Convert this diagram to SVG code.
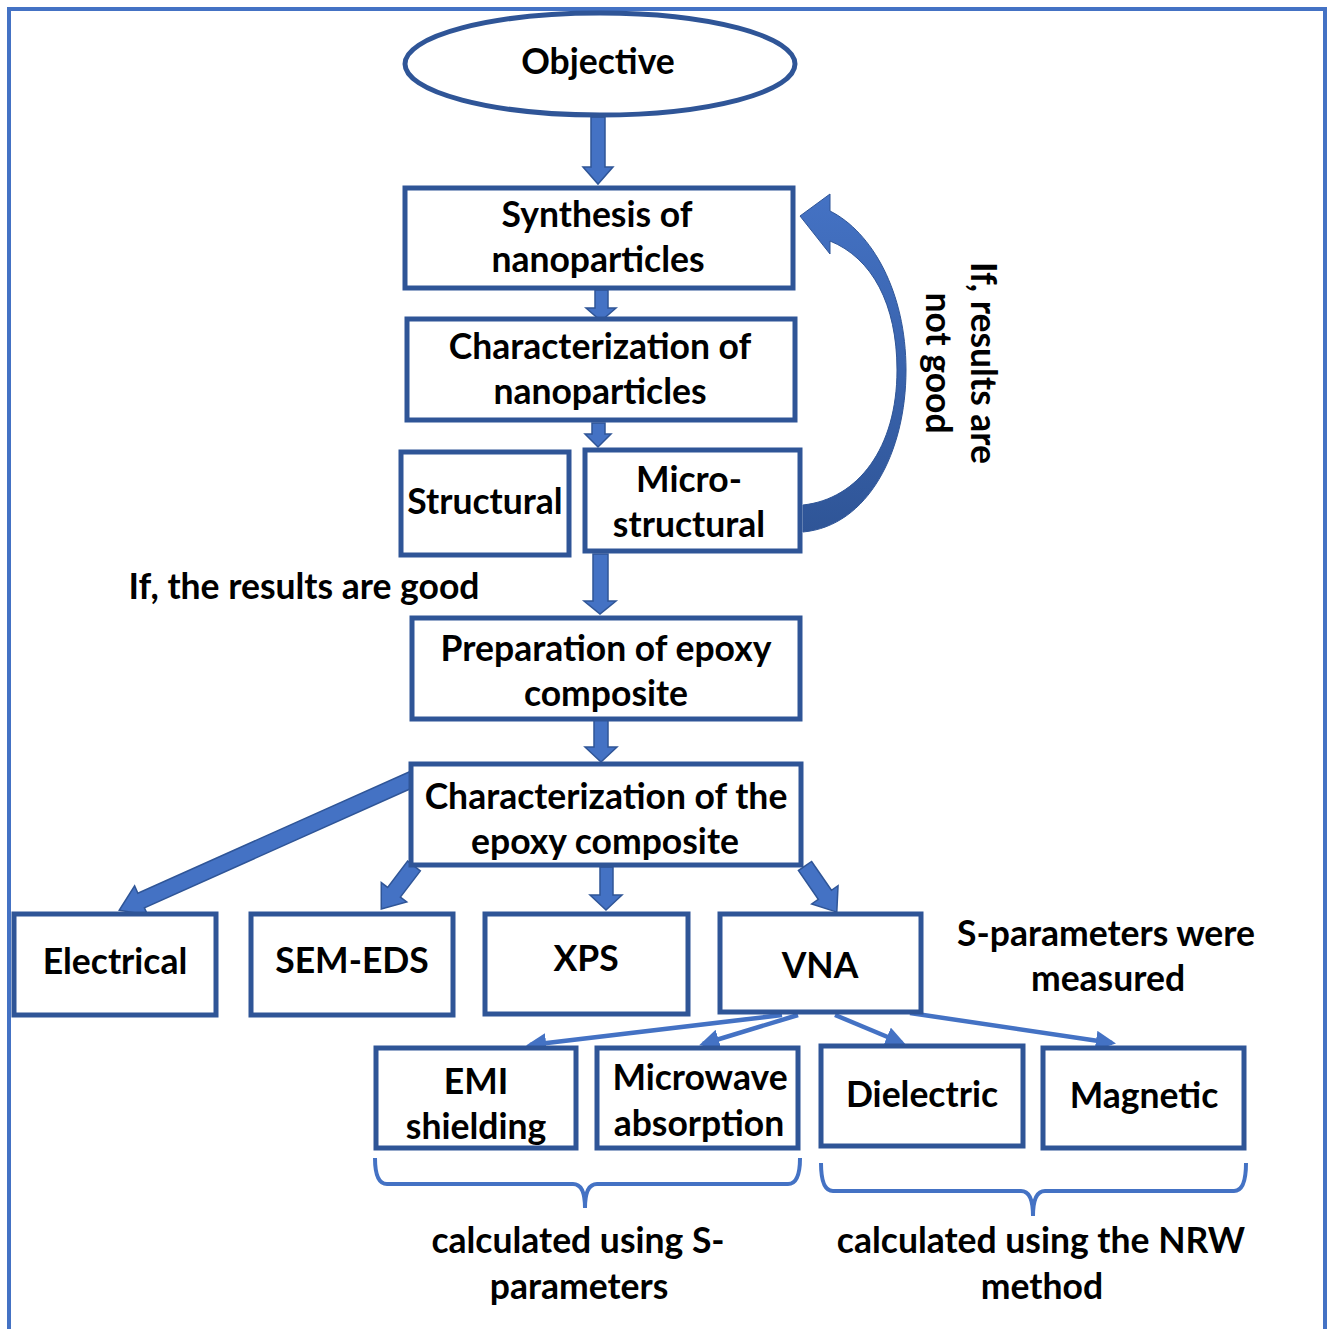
<svg xmlns="http://www.w3.org/2000/svg" width="1331" height="1329" viewBox="0 0 1331 1329">
<style>
.box{fill:#fff;stroke:#2f5597;stroke-width:5}
.t{font-family:Lato,"Liberation Sans",sans-serif;font-weight:bold;font-size:35.5px;fill:#000;text-anchor:middle}
.blk{fill:#4472c4;stroke:#2f5597;stroke-width:1.5;stroke-linejoin:miter}
.thin{fill:none;stroke:#4472c4;stroke-width:4.5}
.brace{fill:none;stroke:#4472c4;stroke-width:4}
</style>
<defs>
<marker id="ah" markerWidth="4.5" markerHeight="4.4" refX="3.6" refY="2.2" orient="auto" markerUnits="strokeWidth">
<path d="M0,0 L4.5,2.2 L0,4.4 Z" fill="#4472c4"/>
</marker>
<linearGradient id="cg" x1="0" y1="0" x2="0" y2="1">
<stop offset="0" stop-color="#4472c4"/>
<stop offset="1" stop-color="#2f5597"/>
</linearGradient>
</defs>
<rect x="9" y="9" width="1316" height="1340" fill="none" stroke="#4472c4" stroke-width="4"/>

<g id="connectors">
<polygon class="blk" points="591,117 605,117 605,167 613,167 598,184 583,167 591,167"/>
<polygon class="blk" points="595,290 608,290 608,308 616,308 601,321 586,308 595,308"/>
<polygon class="blk" points="592,423 605,423 605,434 611,434 598,447 585,434 592,434"/>
<polygon class="blk" points="593,554 608,554 608,601 616,601 600,614 584,601 593,601"/>
<polygon class="blk" points="594,720 608,720 608,747 617,747 601,762 585,747 594,747"/>
<polygon class="blk" points="600,867 613,867 613,895 622,895 606,910 590,895 600,895"/>
<g transform="translate(415,778) rotate(155.9)"><polygon class="blk" points="0,-8 300,-8 300,-16 324,0 300,16 300,8 0,8"/></g>
<g transform="translate(414,866) rotate(127.3)"><polygon class="blk" points="0,-8 33,-8 33,-16 54,0 33,16 33,8 0,8"/></g>
<g transform="translate(805,866) rotate(55.4)"><polygon class="blk" points="0,-8 35,-8 35,-16 56,0 35,16 35,8 0,8"/></g>
<line class="thin" x1="782" y1="1015" x2="530" y2="1045" marker-end="url(#ah)"/>
<line class="thin" x1="798" y1="1015" x2="703" y2="1044" marker-end="url(#ah)"/>
<line class="thin" x1="835" y1="1015" x2="902" y2="1043" marker-end="url(#ah)"/>
<line class="thin" x1="910" y1="1013" x2="1112" y2="1043" marker-end="url(#ah)"/>
<path d="M800,216 L830,194 L830,211 C872,232 906,292 906,370 C906,452 868,526 803,532 L803,505 C858,499 897,448 897,370 C897,304 872,258 830,241 L830,254 Z" fill="url(#cg)" stroke="#2f5597" stroke-width="1"/>
</g>

<g id="objective">
<ellipse cx="600" cy="64" rx="195" ry="51" class="box"/>
<text class="t" x="598" y="74">Objective</text>
</g>
<g id="synthesis">
<rect class="box" x="405" y="188" width="388" height="100"/>
<text class="t" x="597" y="227">Synthesis of</text>
<text class="t" x="598" y="272">nanoparticles</text>
</g>
<g id="char-nano">
<rect class="box" x="407" y="319" width="388" height="101"/>
<text class="t" x="600" y="359">Characterization of</text>
<text class="t" x="600" y="404">nanoparticles</text>
</g>
<g id="structural">
<rect class="box" x="401" y="452" width="168" height="103"/>
<text class="t" x="485" y="514">Structural</text>
</g>
<g id="microstructural">
<rect class="box" x="585" y="450" width="215" height="101"/>
<text class="t" x="689" y="492">Micro-</text>
<text class="t" x="689" y="537">structural</text>
</g>
<g id="label-good">
<text class="t" x="304" y="599">If, the results are good</text>
</g>
<g id="label-notgood">
<text class="t" transform="translate(971,363) rotate(90)">If, results are</text>
<text class="t" transform="translate(926,363) rotate(90)">not good</text>
</g>
<g id="preparation">
<rect class="box" x="412" y="618" width="388" height="101"/>
<text class="t" x="606" y="661">Preparation of epoxy</text>
<text class="t" x="606" y="706">composite</text>
</g>
<g id="char-epoxy">
<rect class="box" x="411" y="764" width="390" height="101"/>
<text class="t" x="606" y="809">Characterization of the</text>
<text class="t" x="605" y="854">epoxy composite</text>
</g>
<g id="electrical">
<rect class="box" x="14" y="914" width="202" height="101"/>
<text class="t" x="115" y="974">Electrical</text>
</g>
<g id="sem-eds">
<rect class="box" x="251" y="914" width="202" height="101"/>
<text class="t" x="352" y="973">SEM-EDS</text>
</g>
<g id="xps">
<rect class="box" x="485" y="914" width="203" height="100"/>
<text class="t" x="586" y="971">XPS</text>
</g>
<g id="vna">
<rect class="box" x="720" y="914" width="201" height="98"/>
<text class="t" x="820" y="978">VNA</text>
</g>
<g id="label-sparam">
<text class="t" x="1106" y="946">S-parameters were</text>
<text class="t" x="1108" y="991">measured</text>
</g>
<g id="emi">
<rect class="box" x="376" y="1048" width="200" height="100"/>
<text class="t" x="476" y="1094">EMI</text>
<text class="t" x="476" y="1139">shielding</text>
</g>
<g id="microwave">
<rect class="box" x="597" y="1048" width="201" height="100"/>
<text class="t" x="700" y="1090">Microwave</text>
<text class="t" x="699" y="1136">absorption</text>
</g>
<g id="dielectric">
<rect class="box" x="821" y="1046" width="202" height="100"/>
<text class="t" x="922" y="1107">Dielectric</text>
</g>
<g id="magnetic">
<rect class="box" x="1043" y="1048" width="201" height="100"/>
<text class="t" x="1144" y="1108">Magnetic</text>
</g>
<g id="brace-left">
<path class="brace" d="M375,1158 Q375,1184 387,1184 L573,1184 Q585,1184 585,1208 Q585,1184 597,1184 L788,1184 Q800,1184 800,1158"/>
<text class="t" x="578" y="1253">calculated using S-</text>
<text class="t" x="579" y="1299">parameters</text>
</g>
<g id="brace-right">
<path class="brace" d="M821,1163 Q821,1191 833,1191 L1021,1191 Q1033,1191 1033,1216 Q1033,1191 1045,1191 L1234,1191 Q1246,1191 1246,1163"/>
<text class="t" x="1041" y="1253">calculated using the NRW</text>
<text class="t" x="1042" y="1299">method</text>
</g>
</svg>
